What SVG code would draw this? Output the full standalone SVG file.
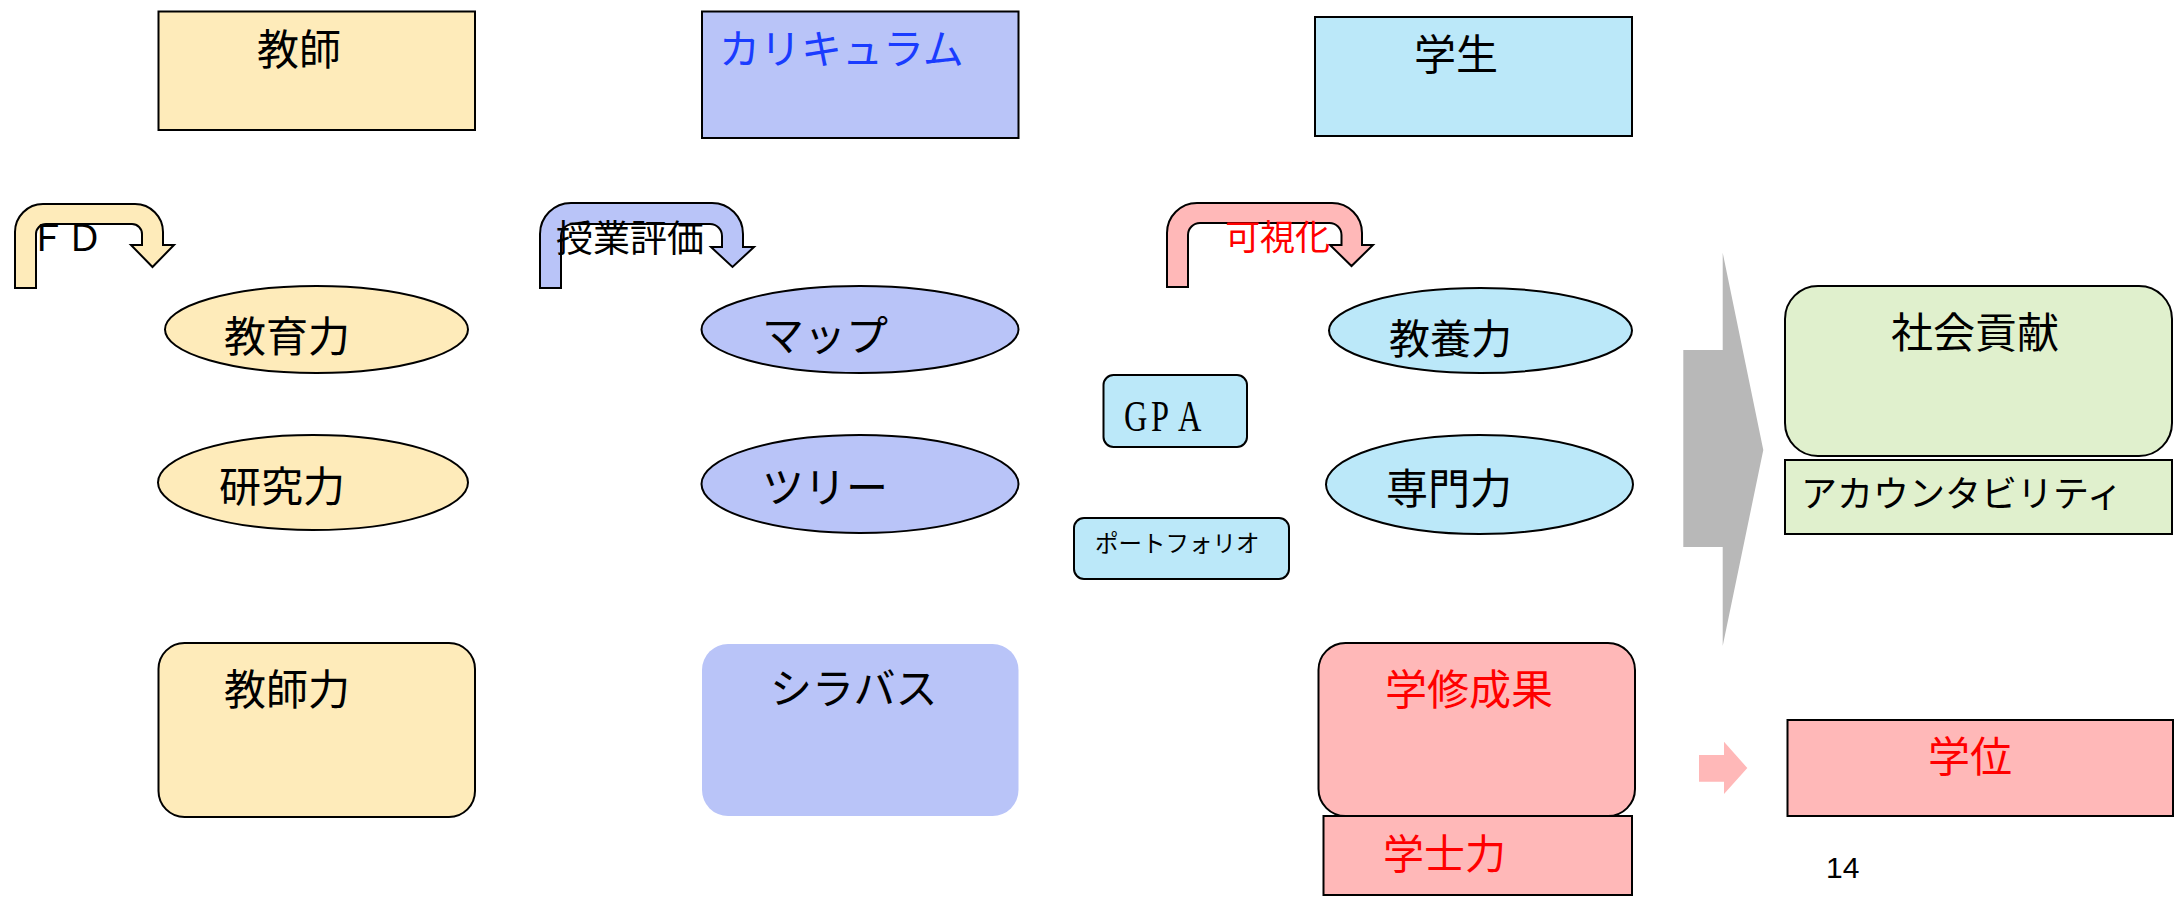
<svg xmlns="http://www.w3.org/2000/svg" width="2179" height="899" viewBox="0 0 2179 899">
<style>
  .t { font-family: "Noto Sans CJK JP", "Liberation Serif", sans-serif; fill: #000; }
  .red { fill: #FF0000; }
  .blue { fill: #1A3CFF; }
  .box { stroke: #000; stroke-width: 2; }
  .yel { fill: #FEEBBA; }
  .lav { fill: #B9C4F8; }
  .cyan { fill: #BBE8F9; }
  .pink { fill: #FFB8B8; }
  .green { fill: #E0F0CD; }
</style>
<rect width="2179" height="899" fill="#fff"/>

<!-- Column 1: teacher -->
<g id="teacher">
  <rect class="box yel" x="158.5" y="11.5" width="316.5" height="118.5"/>
  <text class="t" x="257" y="65" font-size="42">教師</text>
</g>
<g id="fd-arrow">
  <path class="box yel" stroke-width="1.5" d="M15,288 L15,232 A28,28 0 0 1 43,204 L135,204 A28,28 0 0 1 163,232 L163,245 L174,245 L152.5,267 L131,245 L142,245 L142,234 A10,10 0 0 0 132,224 L46,224 A10,10 0 0 0 36,234 L36,288 Z"/>
  <text class="t" x="29" y="251" font-size="37">ＦＤ</text>
</g>
<g id="kyouikuryoku">
  <ellipse class="box yel" stroke-width="1.5" cx="316.5" cy="329.5" rx="151.5" ry="43.5"/>
  <text class="t" x="224" y="352" font-size="42">教育力</text>
</g>
<g id="kenkyuryoku">
  <ellipse class="box yel" stroke-width="1.5" cx="313" cy="482.5" rx="155" ry="47.5"/>
  <text class="t" x="219" y="502" font-size="42">研究力</text>
</g>
<g id="kyoushiryoku">
  <rect class="box yel" x="158.5" y="643" width="316.5" height="174" rx="26" ry="26"/>
  <text class="t" x="224" y="705" font-size="42">教師力</text>
</g>

<!-- Column 2: curriculum -->
<g id="curriculum">
  <rect class="box lav" x="702" y="11.5" width="316.5" height="126.5"/>
  <text class="t blue" x="719" y="64" font-size="41">カリキュラム</text>
</g>
<g id="jugyou-arrow">
  <path class="box lav" stroke-width="1.5" d="M540,288 L540,234 A31,31 0 0 1 571,203 L712,203 A31,31 0 0 1 743,234 L743,247 L754,247 L732.5,267 L711,247 L722,247 L722,236 A12,12 0 0 0 710,224 L573,224 A12,12 0 0 0 561,236 L561,288 Z"/>
  <text class="t" x="556" y="252" font-size="37">授業評価</text>
</g>
<g id="map">
  <ellipse class="box lav" stroke-width="1.5" cx="860" cy="329.5" rx="158.5" ry="43.5"/>
  <text class="t" x="762" y="351" font-size="42">マップ</text>
</g>
<g id="tree">
  <ellipse class="box lav" stroke-width="1.5" cx="860" cy="484" rx="158.5" ry="49"/>
  <text class="t" x="762" y="503" font-size="42">ツリー</text>
</g>
<g id="syllabus">
  <rect class="lav" x="702" y="644" width="316.5" height="172" rx="26" ry="26"/>
  <text class="t" x="770" y="704" font-size="42">シラバス</text>
</g>

<!-- Column 3: student -->
<g id="student">
  <rect class="box cyan" x="1315" y="17" width="317" height="119"/>
  <text class="t" x="1414" y="70" font-size="42">学生</text>
</g>
<g id="kashika-arrow">
  <path class="box pink" stroke-width="1.5" d="M1167,287 L1167,233 A30,30 0 0 1 1197,203 L1332,203 A30,30 0 0 1 1362,233 L1362,245 L1373,245 L1351.5,266 L1330,245 L1341.5,245 L1341.5,235 A12,12 0 0 0 1329.5,223 L1200,223 A12,12 0 0 0 1188,235 L1188,287 Z"/>
  <text class="t red" x="1225" y="250" font-size="35">可視化</text>
</g>
<g id="gpa">
  <rect class="box cyan" stroke-width="1.5" x="1103.5" y="375" width="143.5" height="72" rx="10" ry="10"/>
  <text font-family="Liberation Serif, serif" font-size="45" fill="#000" transform="translate(1124,431) scale(0.72,1)" x="0 37.5 75">GPA</text>
</g>
<g id="portfolio">
  <rect class="box cyan" stroke-width="1.5" x="1074" y="518" width="215" height="61" rx="10" ry="10"/>
  <text class="t" x="1095" y="552" font-size="23.5">ポートフォリオ</text>
</g>
<g id="kyouyouryoku">
  <ellipse class="box cyan" stroke-width="1.5" cx="1480.5" cy="330.5" rx="151.5" ry="42.5"/>
  <text class="t" x="1389" y="354" font-size="41">教養力</text>
</g>
<g id="senmonryoku">
  <ellipse class="box cyan" stroke-width="1.5" cx="1479.5" cy="484.5" rx="153.5" ry="49.5"/>
  <text class="t" x="1386" y="504" font-size="42">専門力</text>
</g>
<g id="gakushuseika">
  <rect class="box pink" x="1318.5" y="643" width="316.5" height="173" rx="27" ry="27"/>
  <text class="t red" x="1385" y="705" font-size="42">学修成果</text>
</g>
<g id="gakushiryoku">
  <rect class="box pink" x="1323.5" y="816" width="308.5" height="79"/>
  <text class="t red" x="1383" y="869" font-size="41">学士力</text>
</g>

<!-- Right column -->
<g id="connectors">
  <polygon fill="#B8B8B8" points="1683.3,350 1722.7,350 1722.7,252.7 1763.3,450 1722.7,646 1722.7,547 1683.3,547"/>
  <polygon fill="#FFB8B8" points="1699,755 1724,755 1724,741.7 1747.3,768 1724,794 1724,781.7 1699,781.7"/>
</g>
<g id="shakaikouken">
  <rect class="box green" x="1785" y="286" width="387" height="170" rx="33" ry="33"/>
  <text class="t" x="1891" y="348" font-size="42">社会貢献</text>
</g>
<g id="accountability">
  <rect class="box green" x="1785" y="460" width="387" height="74"/>
  <text class="t" x="1801" y="507" font-size="36">アカウンタビリティ</text>
</g>
<g id="gakui">
  <rect class="box pink" x="1787.5" y="720" width="385.5" height="96"/>
  <text class="t red" x="1928" y="772" font-size="42">学位</text>
</g>
<text font-family="Liberation Sans, sans-serif" font-size="30" fill="#000" x="1826" y="878">14</text>
</svg>
